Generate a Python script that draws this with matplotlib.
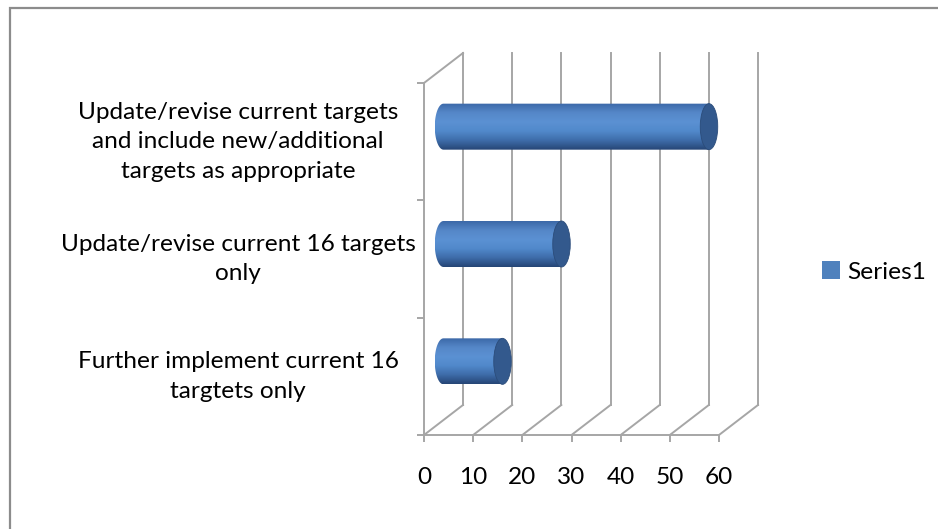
import numpy as np
import matplotlib

matplotlib.use("Agg")
import matplotlib.pyplot as plt
from matplotlib.colors import LinearSegmentedColormap
from matplotlib.patches import Ellipse, PathPatch, Patch, Rectangle
from matplotlib.path import Path

# data (top to bottom as shown)
categories = [
    "Update/revise current targets\nand include new/additional\ntargets as appropriate",
    "Update/revise current 16 targets\nonly",
    "Further implement current 16\ntargtets only",
]
values = [54, 24, 12]
x_ticks = [0, 10, 20, 30, 40, 50, 60]
series_name = "Series1"

W, H = 938, 529
FONT = "Lato"
FS = 17.6
GRID = "#A6A6A6"

# fake 3D depth in data units
px_per_x = 295 / 60.0
px_per_y = 352 / 3.0
DX = 39 / px_per_x
DY = 30 / px_per_y
BAR_H = 46 / px_per_y
CAP_W = 17.5 / px_per_x

fig = plt.figure(figsize=(W / 100, H / 100), dpi=100)
fig.patch.set_facecolor("#FFFFFF")

x_max = 68
y_max = 3.3
ax = fig.add_axes([424 / W, (H - 435) / H, x_max * px_per_x / W, y_max * px_per_y / H])
ax.set_facecolor("none")

n = len(categories)

# walls / grid
for v in x_ticks:
    ax.plot([v + DX, v + DX], [DY, n + DY], color=GRID, lw=1.4, zorder=1, clip_on=False)
    ax.plot([v, v + DX], [0, DY], color=GRID, lw=1.4, zorder=1, clip_on=False)
ax.plot([0, DX], [n, n + DY], color=GRID, lw=1.4, zorder=1, clip_on=False)

# cylinders
body_cmap = LinearSegmentedColormap.from_list(
    "body", ["#3C69A8", "#5587C8", "#5B91D3", "#5189CB", "#3E6CA9", "#264676"]
)
grad = np.linspace(0, 1, 100).reshape(-1, 1)
for i, (lab, val) in enumerate(zip(categories, values)):
    yc = (n - 1 - i) + 0.5 + DY / 2
    x0 = DX / 2
    x1 = val + DX / 2
    rx = CAP_W / 2
    t = np.linspace(np.pi / 2, 3 * np.pi / 2, 60)
    left = np.column_stack([x0 + rx * np.cos(t), yc + BAR_H / 2 * np.sin(t)])
    verts = np.vstack([left, [[x1, yc - BAR_H / 2], [x1, yc + BAR_H / 2]], left[:1]])
    clip = PathPatch(Path(verts, closed=True), facecolor="none", edgecolor="none")
    ax.add_patch(clip)
    ax.imshow(
        grad,
        extent=[x0 - rx, x1, yc - BAR_H / 2, yc + BAR_H / 2],
        aspect="auto",
        cmap=body_cmap,
        origin="upper",
        zorder=3,
        clip_path=clip,
        interpolation="bilinear",
    )
    ax.add_patch(Ellipse((x1, yc), CAP_W, BAR_H, facecolor="#33598D", edgecolor="#2B4C7A", lw=0.6, zorder=4))

    ax.text(-37.8, (n - 1 - i) + 0.5, lab, ha="center", va="center", multialignment="center",
            fontsize=FS, family=FONT, color="#000000", linespacing=1.5)

ax.set_xlim(0, x_max)
ax.set_ylim(0, y_max)

ax.set_xticks(x_ticks)
ax.set_xticklabels([str(v) for v in x_ticks], fontsize=FS, family=FONT)
ax.set_yticks(range(n + 1))
ax.set_yticklabels([])
ax.tick_params(axis="x", direction="out", length=5, width=1.4, color=GRID, pad=18)
ax.tick_params(axis="y", direction="out", length=5, width=1.4, color=GRID)
for s in ["top", "right"]:
    ax.spines[s].set_visible(False)
ax.spines["bottom"].set_bounds(0, 60)
ax.spines["left"].set_bounds(0, n)
for s in ["bottom", "left"]:
    ax.spines[s].set_color(GRID)
    ax.spines[s].set_linewidth(1.4)

fig.legend(
    handles=[Patch(facecolor="#4F81BD", edgecolor="none", label=series_name)],
    loc="center left",
    bbox_to_anchor=(822 / W, (H - 272) / H),
    frameon=False,
    prop={"family": FONT, "size": FS},
    handlelength=0.72,
    handleheight=0.72,
    handletextpad=0.3,
    borderpad=0,
    borderaxespad=0,
)

fig.add_artist(Rectangle((10 / W, -0.02), 1.05, 1 - 8 / H + 0.02, transform=fig.transFigure,
                         facecolor="none", edgecolor="#8C8C8C", lw=1.6))

fig.savefig("out.png", dpi=100)
plt.close(fig)
